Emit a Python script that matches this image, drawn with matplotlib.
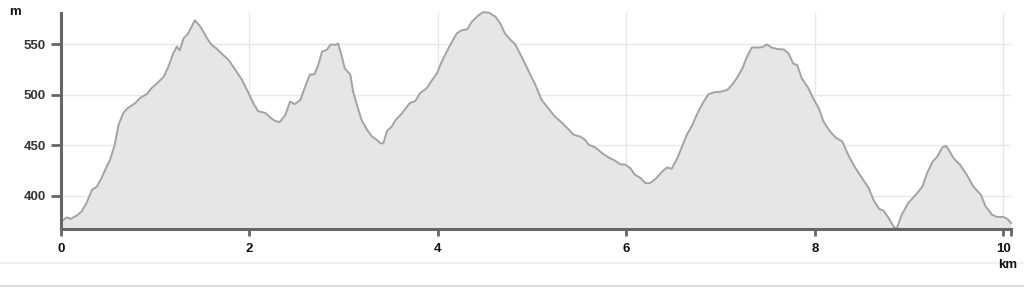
import matplotlib.pyplot as plt
from matplotlib.lines import Line2D

# profile points (km, m)
dist_km = [0.0, 0.01, 0.06, 0.10, 0.17, 0.22, 0.27, 0.33, 0.38, 0.43, 0.485, 0.52, 0.57,
           0.61, 0.66, 0.71, 0.79, 0.84, 0.91, 0.96, 1.02, 1.09, 1.14, 1.19, 1.23, 1.26,
           1.30, 1.35, 1.42, 1.48, 1.55, 1.60, 1.65, 1.72, 1.78, 1.85, 1.92, 1.99, 2.04,
           2.09, 2.17, 2.22, 2.27, 2.32, 2.38, 2.43, 2.48, 2.54, 2.59, 2.64, 2.69, 2.73,
           2.77, 2.82, 2.86, 2.91, 2.94, 2.98, 3.01, 3.07, 3.10, 3.14, 3.19, 3.25, 3.30,
           3.35, 3.39, 3.42, 3.46, 3.51, 3.55, 3.62, 3.70, 3.76, 3.81, 3.88, 3.94, 3.99,
           4.04, 4.11, 4.16, 4.20, 4.25, 4.31, 4.36, 4.43, 4.48, 4.54, 4.61, 4.66, 4.71,
           4.77, 4.82, 4.87, 4.93, 4.98, 5.03, 5.10, 5.17, 5.24, 5.32, 5.39, 5.44, 5.51,
           5.56, 5.60, 5.67, 5.74, 5.81, 5.88, 5.93, 5.99, 6.04, 6.09, 6.15, 6.20, 6.25,
           6.31, 6.38, 6.43, 6.48, 6.54, 6.59, 6.64, 6.70, 6.73, 6.77, 6.82, 6.87, 6.94,
           7.01, 7.07, 7.12, 7.17, 7.23, 7.28, 7.33, 7.39, 7.44, 7.49, 7.54, 7.60, 7.67,
           7.72, 7.77, 7.81, 7.86, 7.93, 7.99, 8.04, 8.09, 8.16, 8.22, 8.29, 8.36, 8.43,
           8.50, 8.57, 8.62, 8.68, 8.73, 8.78, 8.84, 8.87, 8.92, 8.99, 9.07, 9.14, 9.19,
           9.25, 9.30, 9.35, 9.39, 9.42, 9.47, 9.54, 9.61, 9.68, 9.76, 9.81, 9.88, 9.93,
           10.0, 10.04, 10.08]
elev_m = [373, 375, 378.5, 377, 380.5, 384.5, 392.7, 406, 409, 417.5, 429, 435.6, 450.5,
          470, 482, 487, 492, 497, 500.7, 506.6, 511.6, 518, 528, 541, 548, 544,
          556, 561, 574, 567.6, 556, 549.5, 546, 539.6, 534.6, 524.8, 515, 501.7, 491.8,
          484, 482, 477.5, 474.3, 473, 480, 493.4, 490.8, 495, 508, 520, 520.5, 529.7,
          543, 544.6, 550, 549.5, 551, 538, 526.4, 520, 503, 490, 475, 465, 458.7,
          455.4, 452, 452, 464.4, 468.6, 475, 482, 491.8, 494, 501.7, 506.6, 515, 521.5,
          533, 546, 554.5, 561, 564, 565, 572.6, 579, 582, 581.5, 577.6, 571, 561,
          554.5, 550, 541, 529.7, 520, 510.6, 495, 486.8, 478.5, 472, 465.4, 460.4, 458.7,
          455.4, 450.5, 447.8, 442.3, 438, 434.7, 431.4, 430.7, 427.4, 420.8, 417.5, 412.5, 412.5,
          416.8, 424, 428, 426.7, 437.3, 448.8, 460.4, 470.3, 477, 485, 493.4, 500.7, 502.7,
          503.3, 505, 510, 516.5, 526.4, 538, 547, 547, 547.3, 550, 547, 545.5, 545,
          541, 531, 529.7, 516.5, 506.6, 495, 486.8, 473.6, 463.7, 457.7, 453.8, 439, 427.4,
          417.5, 407.6, 396, 387, 385, 378, 368.6, 368, 381, 392.8, 401, 409, 422.5,
          434, 439, 447.8, 449.5, 445.5, 437.3, 430.7, 420.8, 409.2, 401, 389.5, 381, 379,
          379, 377, 373]
x_ticks = [0, 2, 4, 6, 8, 10]
y_ticks = [400, 450, 500, 550]

fig = plt.figure(figsize=(10.24, 2.88), dpi=100)
ax = fig.add_axes([61 / 1024, 1 - 229 / 288, 950 / 1024, 216.3 / 288])

ax.fill_between(dist_km, elev_m, 300, color="#e6e6e6", lw=0, zorder=1)
ax.plot(dist_km, elev_m, color="#a3a3a3", lw=1.4, zorder=2, clip_on=False)

ax.set_xlim(0, dist_km[-1])
ax.set_ylim(367, 581.5)
ax.set_xticks(x_ticks)
ax.set_xticks([dist_km[-1]], minor=True)
ax.set_yticks(y_ticks)
ax.grid(True, color="#e8e8e8", lw=1, zorder=0)
ax.set_axisbelow(True)

for s in ["top", "right"]:
    ax.spines[s].set_visible(False)
for s in ["left", "bottom"]:
    ax.spines[s].set_color("#666666")
    ax.spines[s].set_linewidth(2.2)

font = dict(family="Liberation Sans", weight="bold", size=9.5)
ax.tick_params(axis="y", length=7, width=2, color="#666666", pad=4, labelcolor="#333333")
ax.tick_params(axis="x", which="both", length=5, width=2, color="#666666", pad=5,
               labelcolor="#111111")
for lab in ax.get_xticklabels() + ax.get_yticklabels():
    lab.set(**font)

fig.text(15 / 1024, 1 - 12 / 288, "m", ha="center", va="center", color="#111111", **font)
fig.text(1008 / 1024, 1 - 265 / 288, "km", ha="center", va="center", color="#111111", **font)

# page borders under the chart
fig.add_artist(Line2D([0, 1], [1 - 263 / 288] * 2, color="#eeeeee", lw=1.2))
fig.add_artist(Line2D([0, 1], [1 - 285.5 / 288] * 2, color="#dddddd", lw=1.5))

fig.savefig("out.png", dpi=100)
